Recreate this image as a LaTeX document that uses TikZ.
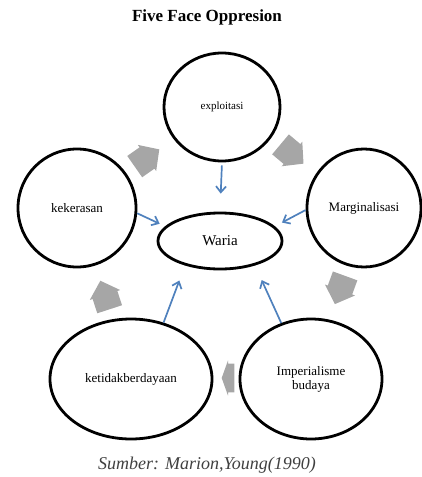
\documentclass[tikz,border=0pt]{standalone}
\usepackage{fontspec}
\setmainfont{Liberation Serif}
\usetikzlibrary{shapes.geometric,arrows.meta}
\definecolor{biru}{HTML}{4F81BD}
\definecolor{abu}{HTML}{A6A6A6}
\definecolor{sumber}{HTML}{404040}

\begin{document}
\begin{tikzpicture}[x=1pt,y=-1pt,
    bentuk/.style={ellipse,draw,line width=2.8pt,inner sep=0pt,align=center},
    arus/.style={draw=biru,line width=1.7pt,-{Straight Barb[length=6pt,width=10pt]}},
    blok/.pic={\fill[abu] (-15,-13) -- (0,-13) -- (0,-16) -- (15,0) -- (0,16) -- (0,13) -- (-15,13) -- cycle;}]
    \useasboundingbox (0,0) rectangle (422,477);
    % judul dan sumber
    \node[font=\bfseries\fontsize{17}{20}\selectfont] (judul) at (207,17) {Five Face Oppresion};
    \node[font=\itshape\fontsize{18}{21}\selectfont,text=sumber] (sumber) at (207,465) {Sumber: Marion,Young(1990)};
    % lima wajah penindasan
    \node[bentuk,minimum width=116pt,minimum height=108pt,font=\fontsize{11}{13}\selectfont] (eksploitasi) at (222,107) {exploitasi};
    \node[bentuk,minimum width=118pt,minimum height=118pt,font=\fontsize{13}{15}\selectfont] (kekerasan) at (77,208) {kekerasan};
    \node[bentuk,minimum width=114pt,minimum height=118pt,font=\fontsize{13}{15}\selectfont] (marginalisasi) at (364,208) {Marginalisasi};
    \node[bentuk,minimum width=124pt,minimum height=56pt,font=\fontsize{15}{17}\selectfont] (waria) at (220,241) {Waria};
    \node[bentuk,minimum width=162pt,minimum height=120pt,font=\fontsize{13}{15}\selectfont] (ketidakberdayaan) at (131,379) {ketidakberdayaan};
    \node[bentuk,minimum width=142pt,minimum height=120pt,font=\fontsize{13}{14}\selectfont] (imperialisme) at (311,379) {Imperialisme\\budaya};
    % panah biru ke pusat
    \draw[arus,shorten <=3pt,shorten >=18pt] (eksploitasi.south) -- (waria.north);
    \draw[arus,shorten >=6pt] (kekerasan.-5) -- (waria.165);
    \draw[arus,shorten >=8pt] (marginalisasi.182) -- (waria.15);
    \draw[arus,shorten >=16pt] (ketidakberdayaan.60) -- (waria.215);
    \draw[arus,shorten >=16pt] (imperialisme.118) -- (waria.-35);
    % panah abu-abu searah jarum jam
    \pic[rotate=35] (blok1) at (147,158) {blok};
    \pic[rotate=-40] (blok2) at (292,154) {blok};
    \pic[rotate=-110] (blok3) at (340,290) {blok};
    \pic[rotate=180,xscale=0.42,yscale=1.1] (blok4) at (228,378) {blok};
    \pic[rotate=108] (blok5) at (105,295) {blok};
\end{tikzpicture}
\end{document}
